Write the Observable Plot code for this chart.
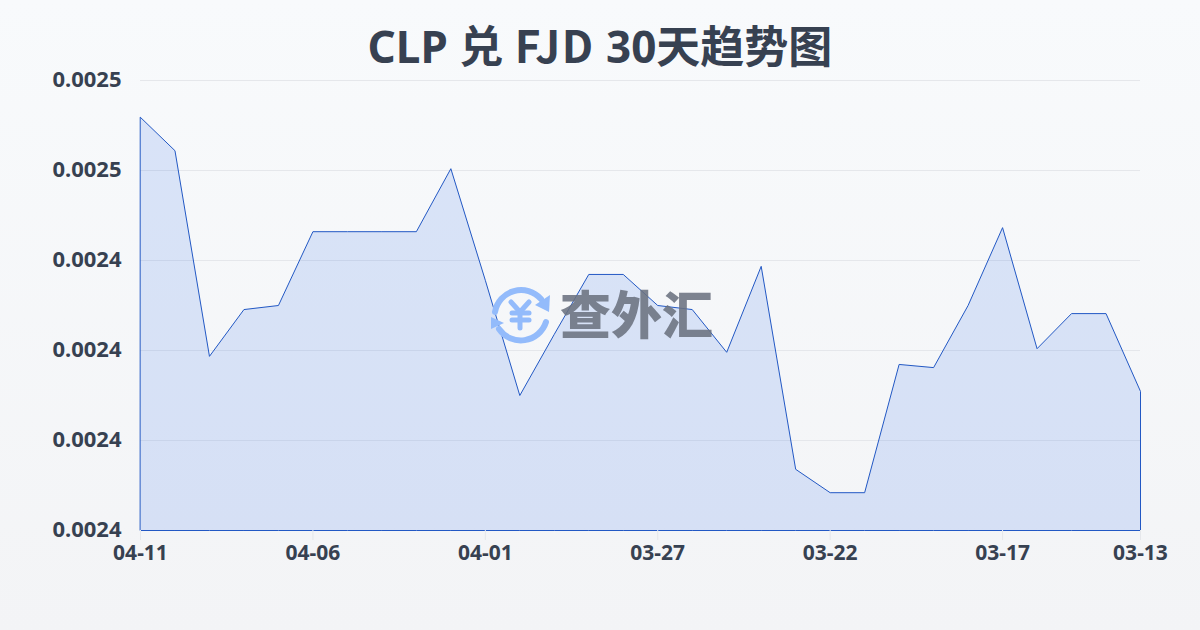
<!DOCTYPE html>
<html><head><meta charset="utf-8">
<script src="https://cdn.jsdelivr.net/npm/d3@7"></script>
<script src="https://cdn.jsdelivr.net/npm/@observablehq/plot@0.6"></script>
<style>
html,body{margin:0;padding:0}
body{width:1200px;height:630px;position:relative;overflow:hidden;background:linear-gradient(180deg,#f8fafc 0%,#f3f4f6 100%);font-family:"Noto Sans","Noto Sans CJK SC",sans-serif}
#title{position:absolute;left:0;top:14px;width:1200px;text-align:center;font-size:44px;line-height:60px;font-weight:700;color:#374151;font-family:"Noto Sans","Noto Sans CJK SC",sans-serif;white-space:nowrap}
#title span{font-family:"Noto Sans CJK SC";letter-spacing:1.5px}
#chart{position:absolute;left:0;top:0}
#chart svg{background:transparent;display:block}
#wm{position:absolute;left:0;top:0;pointer-events:none}
</style></head><body>
<div id="chart"></div>
<svg id="wm" width="1200" height="630" viewBox="0 0 1200 630">
  <g fill="none" stroke="#93bbfb" stroke-width="6" stroke-linecap="round">
    <path d="M495 312 A26.5 26.5 0 0 1 541 299"/>
    <path d="M546 322 A26.5 26.5 0 0 1 499 329"/>
  </g>
  <path d="M550 295 L549 312 L535 305 Z" fill="#93bbfb"/>
  <path d="M491 317 L491 329 L504 323 Z" fill="#93bbfb"/>
  <g fill="none" stroke="#93bbfb" stroke-width="5" stroke-linecap="round" stroke-linejoin="round">
    <path d="M511 302 L520 312 L529 302"/>
    <path d="M512 313 L529 313"/>
    <path d="M512 320 L529 320"/>
    <path d="M520 312 L520 328"/>
  </g>
  <text x="560" y="334" font-size="51" font-weight="900" fill="#6b7280" fill-opacity="0.88" font-family="Noto Sans CJK SC">查外汇</text>
</svg>
<div id="title">CLP 兑 <span>FJD</span> 30天趋势图</div>
<script>
const dates=["04-11","04-10","04-09","04-08","04-07","04-06","04-05","04-04","04-03","04-02","04-01","03-31","03-30","03-29","03-28","03-27","03-26","03-25","03-24","03-23","03-22","03-21","03-20","03-19","03-18","03-17","03-16","03-15","03-14","03-13"];
const rates=[0.0024718,0.0024644,0.0024187,0.0024291,0.00243,0.0024464,0.0024464,0.0024464,0.0024464,0.0024604,0.0024356,0.00241,0.0024236,0.0024369,0.0024369,0.00243,0.0024291,0.0024196,0.0024387,0.0023936,0.0023884,0.0023884,0.0024169,0.0024162,0.00243,0.0024473,0.0024204,0.0024282,0.0024282,0.0024109];
const xTicks=["04-11","04-06","04-01","03-27","03-22","03-17","03-13"];
const yTicks=[0.00238,0.0024,0.00242,0.00244,0.00246,0.00248];
const yBase=yTicks[0];
const data=dates.map((d,i)=>({d,v:rates[i],base:yBase}));
const plot=Plot.plot({
  width:1200,height:630,marginLeft:140,marginRight:60,marginTop:80,marginBottom:100,
  style:{background:"transparent",fontFamily:'"Noto Sans","Noto Sans CJK SC",sans-serif'},
  x:{type:"point",domain:dates,padding:0,round:false,label:null},
  y:{domain:[yBase,yTicks[5]],label:null},
  marks:[
    Plot.gridY(yTicks,{stroke:"#e5e7eb",strokeOpacity:1,strokeWidth:1}),
    Plot.areaY(data,{x:"d",y1:"base",y2:"v",dx:0.5,dy:0.5,fill:"#2563eb",fillOpacity:0.14,stroke:"#2258c4",strokeWidth:1}),
    Plot.axisY({ticks:yTicks,tickFormat:d=>d3.format(".4f")(d),tickSize:0,tickPadding:19,dy:-1,fontSize:22,fontWeight:700,fill:"#374151",label:null}),
    Plot.axisX({ticks:xTicks,tickSize:10,tickPadding:5,fontSize:21,fontWeight:700,stroke:"#e5e7eb",fill:"#374151",label:null})
  ]
});
document.getElementById("chart").appendChild(plot);
</script>
</body></html>
